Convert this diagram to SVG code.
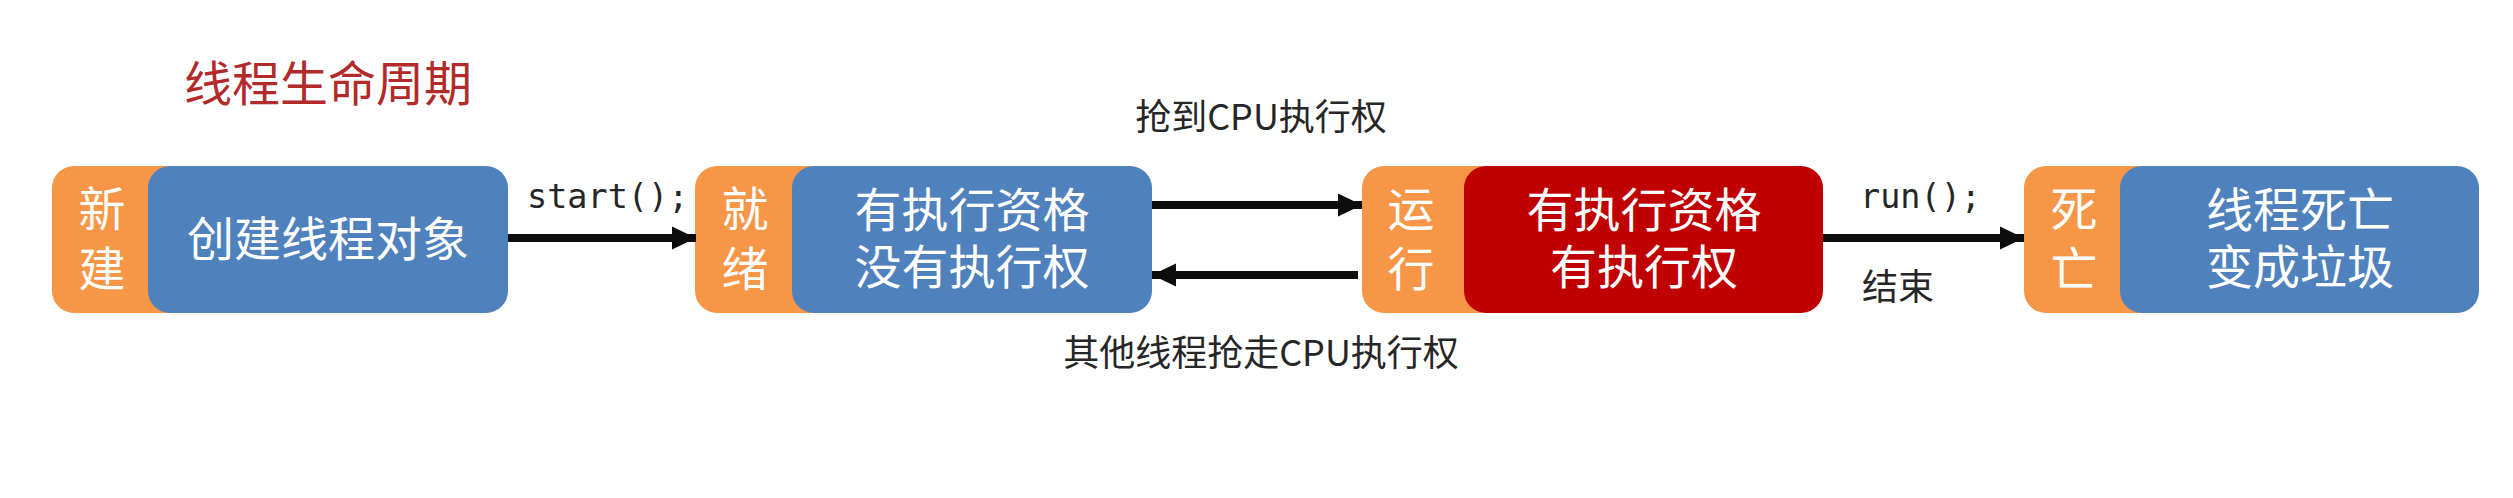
<svg xmlns="http://www.w3.org/2000/svg" width="2513" height="498" viewBox="0 0 2513 498">
<style>
.bg{fill:#FFFFFF}
.tag{fill:#F79646}
.blue{fill:#4F81BD}
.red{fill:#C00000}
.wt{fill:#FFFFFF;font-family:"Noto Sans CJK SC","Noto Sans",sans-serif;font-size:47px;text-anchor:middle}
.lb{fill:#262626;font-family:"Noto Sans CJK SC","Noto Sans",sans-serif;font-size:36px;text-anchor:middle}
.code{fill:#262626;font-family:"DejaVu Sans Mono","Liberation Mono",monospace;font-size:33.5px}
.title{fill:#B22A2A;font-family:"Noto Sans CJK SC","Noto Sans",sans-serif;font-size:48px;text-anchor:middle}
.arr{stroke:#0D0D0D;stroke-width:8;fill:none}
</style>
<defs>
<marker id="ah" markerUnits="userSpaceOnUse" markerWidth="26" markerHeight="24" refX="24" refY="12" orient="auto">
<path d="M0,0.5 L24,12 L0,23.5 z" fill="#0D0D0D"/>
</marker>
</defs>
<rect class="bg" x="0" y="0" width="2513" height="498"/>
<text class="title" x="328" y="101">线程生命周期</text>

<g id="node-new">
<rect class="tag" x="52" y="166" width="140" height="147" rx="22"/>
<rect class="blue" x="148" y="166" width="360" height="147" rx="22"/>
<text class="wt"><tspan x="102" y="226">新</tspan><tspan x="102" y="286">建</tspan></text>
<text class="wt" x="328" y="256">创建线程对象</text>
</g>

<g id="node-ready">
<rect class="tag" x="695" y="166" width="140" height="147" rx="22"/>
<rect class="blue" x="792" y="166" width="360" height="147" rx="22"/>
<text class="wt"><tspan x="745" y="226">就</tspan><tspan x="745" y="286">绪</tspan></text>
<text class="wt"><tspan x="972" y="227">有执行资格</tspan><tspan x="972" y="284">没有执行权</tspan></text>
</g>

<g id="node-running">
<rect class="tag" x="1362" y="166" width="140" height="147" rx="22"/>
<rect class="red" x="1464" y="166" width="359" height="147" rx="22"/>
<text class="wt"><tspan x="1411" y="226">运</tspan><tspan x="1411" y="286">行</tspan></text>
<text class="wt"><tspan x="1644" y="227">有执行资格</tspan><tspan x="1644" y="284">有执行权</tspan></text>
</g>

<g id="node-dead">
<rect class="tag" x="2024" y="166" width="140" height="147" rx="22"/>
<rect class="blue" x="2120" y="166" width="359" height="147" rx="22"/>
<text class="wt"><tspan x="2074" y="226">死</tspan><tspan x="2074" y="286">亡</tspan></text>
<text class="wt"><tspan x="2300" y="227">线程死亡</tspan><tspan x="2300" y="284">变成垃圾</tspan></text>
</g>

<g id="connectors">
<line class="arr" x1="508" y1="238" x2="696" y2="238" marker-end="url(#ah)"/>
<text class="code" x="527" y="208">start();</text>
<line class="arr" x1="1152" y1="205" x2="1362" y2="205" marker-end="url(#ah)"/>
<text class="lb" x="1261" y="130">抢到CPU执行权</text>
<line class="arr" x1="1358" y1="275" x2="1152" y2="275" marker-end="url(#ah)"/>
<text class="lb" x="1261" y="366">其他线程抢走CPU执行权</text>
<line class="arr" x1="1823" y1="238" x2="2024" y2="238" marker-end="url(#ah)"/>
<text class="code" x="1860" y="208">run();</text>
<text class="lb" x="1898" y="300">结束</text>
</g>
</svg>
